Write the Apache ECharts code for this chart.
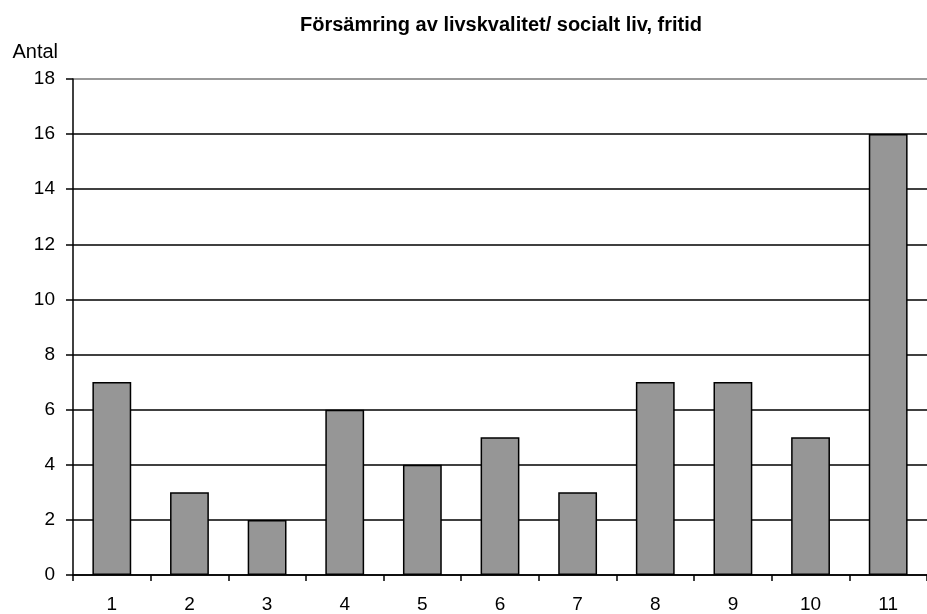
<!DOCTYPE html>
<html>
<head>
<meta charset="utf-8">
<script src="https://cdn.jsdelivr.net/npm/echarts@6/dist/echarts.min.js"></script>
<style>
  html, body { margin: 0; padding: 0; background: #fff; }
  #chart { width: 927px; height: 614px; }
</style>
</head>
<body>
<div id="chart"></div>
<script>
// Antal per kategori
const categories = ['1', '2', '3', '4', '5', '6', '7', '8', '9', '10', '11'];
const antal = [7, 3, 2, 6, 4, 5, 3, 7, 7, 5, 16];
const yTicks = [0, 2, 4, 6, 8, 10, 12, 14, 16, 18];

const font = 'Arial, "Liberation Sans", Helvetica, sans-serif';
const chart = echarts.init(document.getElementById('chart'));

chart.setOption({
  backgroundColor: '#ffffff',
  animation: false,
  title: {
    text: 'Försämring av livskvalitet/ socialt liv, fritid',
    left: 496,
    top: 10,
    textAlign: 'center',
    textStyle: { fontFamily: font, fontSize: 20, fontWeight: 'bold', color: '#000' }
  },
  grid: { left: 73, top: 79, width: 858, height: 497, containLabel: false },
  xAxis: {
    type: 'category',
    data: categories,
    boundaryGap: true,
    axisLine: { lineStyle: { color: '#000', width: 1.5 } },
    axisTick: { show: true, alignWithLabel: false, length: 6, inside: false, lineStyle: { color: '#000', width: 1.5 } },
    axisLabel: { color: '#000', fontFamily: font, fontSize: 19, margin: 20 },
    splitLine: { show: false }
  },
  yAxis: {
    type: 'value',
    min: yTicks[0],
    max: yTicks[yTicks.length - 1],
    interval: 2,
    name: 'Antal',
    nameLocation: 'end',
    nameGap: 17,
    nameTextStyle: { color: '#000', fontFamily: font, fontSize: 20, align: 'right', padding: [0, 15, 0, 0] },
    axisLine: { show: true, lineStyle: { color: '#000', width: 1.5 } },
    axisTick: { show: true, length: 7, lineStyle: { color: '#000', width: 1.5 } },
    axisLabel: { color: '#000', fontFamily: font, fontSize: 19, margin: 18 },
    splitLine: {
      show: true,
      lineStyle: {
        color: ['#000', '#000', '#000', '#000', '#000', '#000', '#000', '#000', '#000', '#777'],
        width: 1.5
      }
    }
  },
  series: [{
    type: 'bar',
    data: antal,
    barWidth: '50%',
    itemStyle: { color: '#969696', borderColor: '#000', borderWidth: 1.5 }
  }]
});
</script>
</body>
</html>
